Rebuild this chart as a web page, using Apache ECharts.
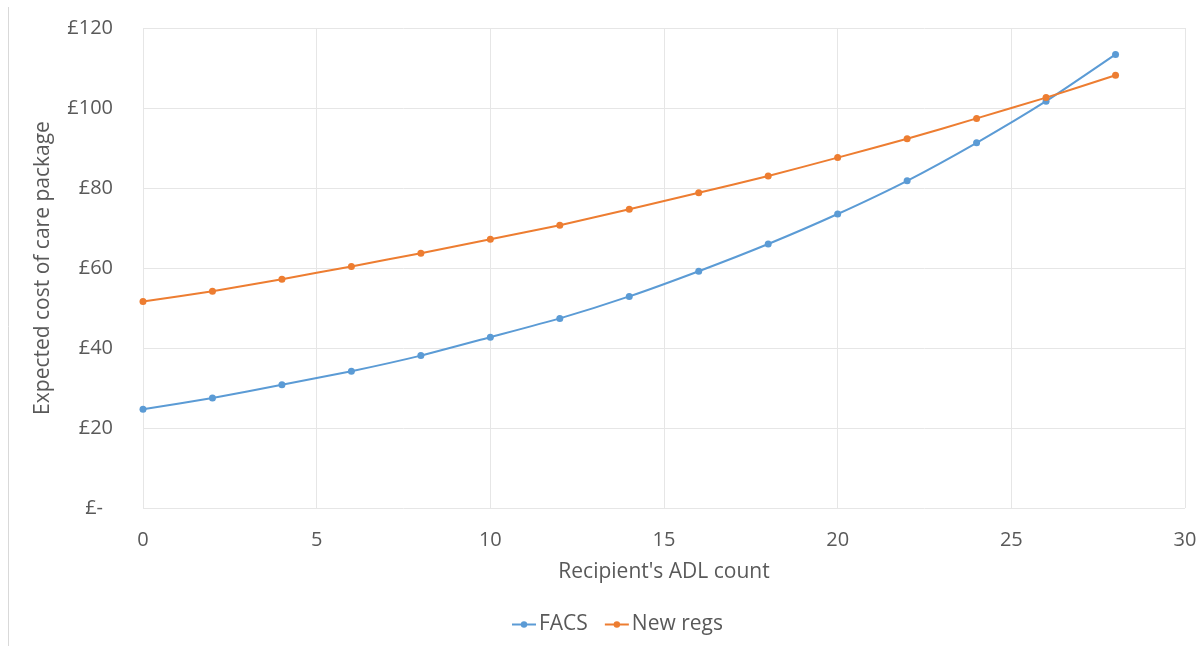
<!DOCTYPE html>
<html><head><meta charset="utf-8">
<script src="https://cdn.jsdelivr.net/npm/echarts@6/dist/echarts.min.js"></script>
<style>html,body{margin:0;padding:0;background:#fff}#c{width:1202px;height:646px}</style>
</head><body><div id="c"></div>
<script>
const adlCount = [0,2,4,6,8,10,12,14,16,18,20,22,24,26,28];
const facs = [24.7,27.5,30.8,34.2,38.1,42.7,47.4,52.9,59.2,66.0,73.5,81.8,91.3,101.7,113.4];
const newRegs = [51.6,54.2,57.2,60.4,63.7,67.2,70.7,74.7,78.8,83.0,87.6,92.3,97.4,102.6,108.2];
const seriesNames = ['FACS','New regs'];
const xTitle = "Recipient's ADL count";
const yTitle = 'Expected cost of care package';

const font = '"Open Sans", Lato, sans-serif';
const txt = '#595959';
const chart = echarts.init(document.getElementById('c'));
chart.setOption({
  animation:false,
  textStyle:{fontFamily:font},
  graphic:[{type:'line',shape:{x1:8.5,y1:7,x2:8.5,y2:646},style:{stroke:'#d9d9d9',lineWidth:1}}],
  grid:{left:143,right:17,top:28,bottom:138,containLabel:false},
  legend:{top:609,left:506,itemWidth:24,itemHeight:8,itemGap:16,
    textStyle:{fontFamily:font,fontSize:21,color:txt,padding:[0,0,0,-2]},data:seriesNames},
  xAxis:{type:'value',min:0,max:30,interval:5,name:xTitle,nameLocation:'middle',nameGap:54,
    nameTextStyle:{fontSize:21,color:txt,fontFamily:font},
    axisLine:{show:false},axisTick:{show:false},
    axisLabel:{fontSize:20,color:txt,margin:22,fontFamily:font},
    splitLine:{show:true,lineStyle:{color:'#e6e6e6',width:1}}},
  yAxis:{type:'value',min:0,max:120,interval:20,name:yTitle,nameLocation:'middle',nameGap:89,
    nameTextStyle:{fontSize:21,color:txt,fontFamily:font},
    axisLine:{show:false},axisTick:{show:false},
    axisLabel:{fontSize:20,color:txt,margin:30,fontFamily:font,
      formatter:v=> v===0 ? '{z|£-}' : '£'+v,
      rich:{z:{fontSize:20,color:txt,fontFamily:font,padding:[0,10,0,0]}}},
    splitLine:{show:true,lineStyle:{color:'#e6e6e6',width:1}}},
  series:[
    {name:seriesNames[0],type:'line',data:adlCount.map((x,i)=>[x,facs[i]]),smooth:0.2,
     symbol:'circle',symbolSize:7,lineStyle:{color:'#5b9bd5',width:2},itemStyle:{color:'#5b9bd5'}},
    {name:seriesNames[1],type:'line',data:adlCount.map((x,i)=>[x,newRegs[i]]),smooth:0.2,
     symbol:'circle',symbolSize:7,lineStyle:{color:'#ed7d31',width:2},itemStyle:{color:'#ed7d31'}}
  ]
});
</script></body></html>
